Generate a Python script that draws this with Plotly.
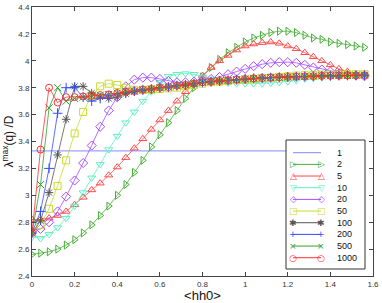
import plotly.graph_objects as go

X = [0.00, 0.04, 0.08, 0.12, 0.16, 0.20, 0.24, 0.28, 0.32, 0.36,
     0.40, 0.44, 0.48, 0.52, 0.56, 0.60, 0.64, 0.68, 0.72, 0.76,
     0.80, 0.84, 0.88, 0.92, 0.96, 1.00, 1.04, 1.08, 1.12, 1.16,
     1.20, 1.24, 1.28, 1.32, 1.36, 1.40, 1.44, 1.48, 1.52, 1.56]

S1 = [3.33, 3.33, 3.33, 3.33, 3.33, 3.33, 3.33, 3.33, 3.33, 3.33,
      3.33, 3.33, 3.33, 3.33, 3.33, 3.33, 3.33, 3.33, 3.33, 3.33,
      3.33, 3.33, 3.33, 3.33, 3.33, 3.33, 3.33, 3.33, 3.33, 3.33,
      3.33, 3.33, 3.33, 3.33, 3.33, 3.33, 3.33, 3.33, 3.33, 3.33]

S2 = [2.56, 2.57, 2.58, 2.60, 2.63, 2.67, 2.72, 2.78, 2.85, 2.92,
      3.00, 3.08, 3.17, 3.26, 3.36, 3.45, 3.54, 3.63, 3.72, 3.80,
      3.88, 3.95, 4.01, 4.06, 4.10, 4.14, 4.17, 4.19, 4.21, 4.22,
      4.22, 4.21, 4.19, 4.17, 4.16, 4.14, 4.13, 4.12, 4.11, 4.10]

S5 = [2.82, 2.82, 2.83, 2.85, 2.88, 2.93, 2.985, 3.04, 3.09, 3.15,
      3.21, 3.28, 3.35, 3.42, 3.49, 3.56, 3.63, 3.70, 3.77, 3.83,
      3.89, 3.95, 4.00, 4.04, 4.08, 4.11, 4.125, 4.135, 4.14, 4.13,
      4.11, 4.09, 4.06, 4.03, 4.00, 3.97, 3.94, 3.92, 3.90, 3.89]

S10 = [2.69, 2.68, 2.71, 2.76, 2.83, 2.92, 3.02, 3.13, 3.23, 3.34,
       3.44, 3.54, 3.62, 3.70, 3.77, 3.84, 3.885, 3.90, 3.905, 3.90,
       3.88, 3.86, 3.845, 3.835, 3.83, 3.83, 3.83, 3.83, 3.835, 3.84,
       3.845, 3.855, 3.865, 3.87, 3.875, 3.88, 3.885, 3.888, 3.89, 3.892]

S20 = [2.73, 2.75, 2.80, 2.88, 2.99, 3.11, 3.24, 3.37, 3.51, 3.63,
       3.73, 3.81, 3.86, 3.875, 3.875, 3.865, 3.85, 3.84, 3.84, 3.845,
       3.855, 3.865, 3.88, 3.90, 3.92, 3.94, 3.96, 3.975, 3.985, 3.99,
       3.99, 3.985, 3.97, 3.95, 3.935, 3.92, 3.905, 3.895, 3.89, 3.885]

S50 = [2.73, 2.78, 2.90, 3.07, 3.26, 3.46, 3.62, 3.74, 3.81, 3.83,
       3.82, 3.80, 3.785, 3.785, 3.785, 3.79, 3.795, 3.80, 3.81, 3.82,
       3.83, 3.84, 3.845, 3.85, 3.855, 3.86, 3.865, 3.87, 3.875, 3.88,
       3.885, 3.89, 3.893, 3.895, 3.897, 3.898, 3.899, 3.90, 3.90, 3.90]

S100 = [2.72, 2.81, 3.02, 3.30, 3.565, 3.81, 3.81, 3.76, 3.73, 3.72,
        3.73, 3.755, 3.77, 3.78, 3.79, 3.80, 3.805, 3.815, 3.82, 3.83,
        3.84, 3.845, 3.85, 3.855, 3.86, 3.865, 3.87, 3.872, 3.875, 3.878,
        3.88, 3.882, 3.884, 3.886, 3.888, 3.889, 3.89, 3.891, 3.892, 3.893]

S200 = [2.72, 2.88, 3.20, 3.61, 3.80, 3.80, 3.73, 3.70, 3.72, 3.74,
        3.755, 3.765, 3.775, 3.785, 3.79, 3.80, 3.805, 3.815, 3.82, 3.83,
        3.84, 3.845, 3.85, 3.855, 3.86, 3.865, 3.87, 3.872, 3.875, 3.878,
        3.88, 3.882, 3.884, 3.886, 3.888, 3.889, 3.89, 3.891, 3.892, 3.893]

S500 = [2.72, 3.08, 3.65, 3.80, 3.70, 3.72, 3.73, 3.74, 3.745, 3.75,
        3.76, 3.77, 3.775, 3.785, 3.79, 3.80, 3.805, 3.815, 3.82, 3.83,
        3.84, 3.845, 3.85, 3.855, 3.86, 3.865, 3.87, 3.872, 3.875, 3.878,
        3.88, 3.882, 3.884, 3.886, 3.888, 3.889, 3.89, 3.891, 3.892, 3.893]

S1000 = [2.72, 3.34, 3.80, 3.69, 3.73, 3.73, 3.735, 3.74, 3.745, 3.75,
         3.76, 3.77, 3.775, 3.785, 3.79, 3.80, 3.805, 3.815, 3.82, 3.83,
         3.84, 3.845, 3.85, 3.855, 3.86, 3.865, 3.87, 3.872, 3.875, 3.878,
         3.88, 3.882, 3.884, 3.886, 3.888, 3.889, 3.89, 3.891, 3.892, 3.893]

NAMES = ["1", "2", "5", "10", "20", "50", "100", "200", "500", "1000"]
SERIES = [S1, S2, S5, S10, S20, S50, S100, S200, S500, S1000]
COLORS = ["#7f8cff", "#45b035", "#ff4a4a", "#5ef0c4", "#a64dff",
          "#c8dc2a", "#555555", "#2f4dff", "#2fa02f", "#ff3030"]
SYMBOLS = [None, "triangle-right-open", "triangle-up-open", "triangle-down-open",
           "diamond-open", "square-open", "asterisk-open", "cross-thin-open",
           "x-thin-open", "circle-open"]
GLYPHS = ["", "\u25B7", "\u25B3", "\u25BD", "\u25C7", "\u25A1", "\u2731", "+", "\u00D7", "\u25CB"]

XTICKS = [0, 0.2, 0.4, 0.6, 0.8, 1.0, 1.2, 1.4, 1.6]
YTICKS = [2.4, 2.6, 2.8, 3.0, 3.2, 3.4, 3.6, 3.8, 4.0, 4.2, 4.4]

fig = go.Figure()
for name, ys, col, sym in zip(NAMES, SERIES, COLORS, SYMBOLS):
    if sym is None:
        fig.add_trace(go.Scatter(x=X, y=ys, mode="lines", name=name,
                                 line=dict(color=col, width=1)))
    else:
        fig.add_trace(go.Scatter(x=X, y=ys, mode="lines+markers", name=name,
                                 line=dict(color=col, width=0.8),
                                 marker=dict(symbol=sym, size=7, color=col,
                                             line=dict(color=col, width=1))))

W, H = 382, 303
ML, MR, MT, MB = 32, 9, 7, 27
PW, PH = W - ML - MR, H - MT - MB


def px(xp):
    return (xp - ML) / PW


def py(yp):
    return (H - MB - yp) / PH


shapes = []
annotations = []
# custom legend box
shapes.append(dict(type="rect", xref="paper", yref="paper",
                   x0=px(286), x1=px(365), y0=py(269), y1=py(140),
                   line=dict(color="#333333", width=1), fillcolor="white", layer="above"))
row0, drow = 152.7, 11.67
for i, (name, col, g) in enumerate(zip(NAMES, COLORS, GLYPHS)):
    yy = py(row0 + i * drow)
    shapes.append(dict(type="line", xref="paper", yref="paper",
                       x0=px(293), x1=px(321), y0=yy, y1=yy,
                       line=dict(color=col, width=1), layer="above"))
    if g:
        for xx in (293, 321):
            annotations.append(dict(xref="paper", yref="paper", x=px(xx), y=yy,
                                    text=g, showarrow=False, xanchor="center", yanchor="middle",
                                    font=dict(family="DejaVu Sans", size=9, color=col)))
    annotations.append(dict(xref="paper", yref="paper", x=px(335), y=yy,
                            text=name, showarrow=False, xanchor="left", yanchor="middle",
                            font=dict(family="Liberation Sans", size=9, color="#111111")))

fig.update_layout(
    width=W, height=H,
    margin=dict(l=ML, r=MR, t=MT, b=MB, autoexpand=False),
    paper_bgcolor="white", plot_bgcolor="white",
    showlegend=False,
    font=dict(family="Liberation Sans, Arial, sans-serif", size=8, color="#333333"),
    shapes=shapes, annotations=annotations,
)
fig.update_xaxes(range=[0, 1.6], tickvals=XTICKS, ticks="inside", ticklen=4,
                 tickcolor="#444444", showline=True, linecolor="#444444", linewidth=1,
                 mirror="ticks", showgrid=False, zeroline=False,
                 tickfont=dict(size=8),
                 title=dict(text="&lt;hh0&gt;", font=dict(size=13, color="#111111"), standoff=3))
fig.update_yaxes(range=[2.4, 4.4], tickvals=YTICKS, ticks="inside", ticklen=4,
                 tickcolor="#444444", showline=True, linecolor="#444444", linewidth=1,
                 mirror="ticks", showgrid=False, zeroline=False,
                 tickfont=dict(size=8),
                 title=dict(text="\u03bb<sup>max</sup>(q) /D", font=dict(size=12, color="#111111"),
                            standoff=2))

fig.write_html("out.html",
               config={"displayModeBar": False, "staticPlot": True},
               post_script="document.body.style.margin='0';document.body.style.padding='0';"
                           "document.body.style.overflow='hidden';")
